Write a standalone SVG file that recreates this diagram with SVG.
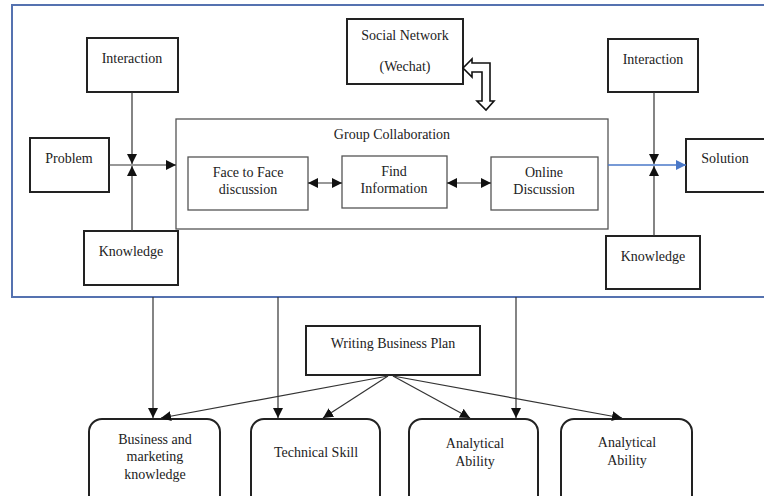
<svg xmlns="http://www.w3.org/2000/svg" width="764" height="496" viewBox="0 0 764 496">
  <style>
    text { font-family: "Liberation Serif", "Times New Roman", serif; font-size: 14px; fill: #222; text-anchor: middle; }
    .box { fill: #fff; stroke: #222; stroke-width: 2; }
    .inner { fill: #fff; stroke: #555; stroke-width: 1.3; }
    .group { fill: #fff; stroke: #555; stroke-width: 1.3; }
    .pill { fill: #fff; stroke: #222; stroke-width: 2; }
    .line { fill: none; stroke: #333; stroke-width: 1.2; }
    .blue { fill: none; stroke: #4A78C8; stroke-width: 1.3; }
  </style>
  <defs>
    <marker id="arrow" viewBox="0 0 10 10" refX="10" refY="5" markerWidth="10" markerHeight="10" markerUnits="userSpaceOnUse" orient="auto-start-reverse">
      <path d="M0,0 L10,5 L0,10 z" fill="#111"/>
    </marker>
    <marker id="arrow-blue" viewBox="0 0 10 10" refX="10" refY="5" markerWidth="10" markerHeight="10" markerUnits="userSpaceOnUse" orient="auto">
      <path d="M0,0 L10,5 L0,10 z" fill="#4A78C8"/>
    </marker>
  </defs>

  <rect width="764" height="496" fill="#fff"/>

  <!-- outer frame -->
  <rect id="frame" x="12" y="5" width="770" height="292" fill="none" stroke="#5572B0" stroke-width="2"/>

  <!-- group collaboration container -->
  <g id="group-collaboration">
    <rect class="group" x="176" y="119" width="432" height="110"/>
    <text x="392" y="139">Group Collaboration</text>
  </g>

  <g id="face-to-face">
    <rect class="inner" x="188" y="157" width="120" height="53"/>
    <text x="248" y="177">Face to Face</text>
    <text x="248" y="194">discussion</text>
  </g>

  <g id="find-information">
    <rect class="inner" x="342" y="156" width="105" height="52"/>
    <text x="394" y="176">Find</text>
    <text x="394" y="193">Information</text>
  </g>

  <g id="online-discussion">
    <rect class="inner" x="491" y="157" width="107" height="53"/>
    <text x="544" y="177">Online</text>
    <text x="544" y="194">Discussion</text>
  </g>

  <g id="social-network">
    <rect class="box" x="347" y="19" width="116" height="65"/>
    <text x="405" y="40">Social Network</text>
    <text x="405" y="71">(Wechat)</text>
  </g>

  <g id="interaction-left">
    <rect class="box" x="87" y="38" width="91" height="54"/>
    <text x="132" y="63">Interaction</text>
  </g>

  <g id="problem">
    <rect class="box" x="30" y="138" width="79" height="54"/>
    <text x="69" y="163">Problem</text>
  </g>

  <g id="knowledge-left">
    <rect class="box" x="84" y="231" width="94" height="54"/>
    <text x="131" y="256">Knowledge</text>
  </g>

  <g id="interaction-right">
    <rect class="box" x="608" y="39" width="90" height="53"/>
    <text x="653" y="64">Interaction</text>
  </g>

  <g id="solution">
    <rect class="box" x="686" y="139" width="80" height="53"/>
    <text x="725" y="163">Solution</text>
  </g>

  <g id="knowledge-right">
    <rect class="box" x="606" y="236" width="94" height="53"/>
    <text x="653" y="261">Knowledge</text>
  </g>

  <g id="writing-business-plan">
    <rect class="box" x="306" y="326" width="174" height="49"/>
    <text x="393" y="348">Writing Business Plan</text>
  </g>

  <g id="business-marketing">
    <rect class="pill" x="89" y="419" width="131" height="100" rx="13"/>
    <text x="155" y="444">Business and</text>
    <text x="155" y="461">marketing</text>
    <text x="155" y="479">knowledge</text>
  </g>

  <g id="technical-skill">
    <rect class="pill" x="251" y="419" width="129" height="100" rx="13"/>
    <text x="316" y="457">Technical Skill</text>
  </g>

  <g id="analytical-ability-1">
    <rect class="pill" x="409" y="419" width="129" height="100" rx="13"/>
    <text x="475" y="448">Analytical</text>
    <text x="475" y="466">Ability</text>
  </g>

  <g id="analytical-ability-2">
    <rect class="pill" x="561" y="419" width="131" height="100" rx="13"/>
    <text x="627" y="447">Analytical</text>
    <text x="627" y="465">Ability</text>
  </g>

  <g id="connectors">
    <!-- left inputs into the collaboration -->
    <line class="line" x1="132" y1="92" x2="132" y2="164" marker-end="url(#arrow)"/>
    <line class="line" x1="132" y1="231" x2="132" y2="166" marker-end="url(#arrow)"/>
    <line class="line" x1="109" y1="165" x2="176" y2="165" marker-end="url(#arrow)"/>

    <!-- links between the collaboration activities -->
    <line class="line" x1="308" y1="183" x2="342" y2="183" marker-start="url(#arrow)" marker-end="url(#arrow)"/>
    <line class="line" x1="447" y1="183" x2="491" y2="183" marker-start="url(#arrow)" marker-end="url(#arrow)"/>

    <!-- hollow bent arrow between the social network and the group -->
    <polygon points="463,68 472,59 472,63 490,63 490,101 494,101 486,110 477,101 482,101 482,72 472,72 472,77" fill="#fff" stroke="#111" stroke-width="1.6" stroke-linejoin="miter"/>

    <!-- right inputs towards the solution -->
    <line class="line" x1="654" y1="92" x2="654" y2="164" marker-end="url(#arrow)"/>
    <line class="line" x1="654" y1="236" x2="654" y2="166" marker-end="url(#arrow)"/>
    <line class="blue" x1="608" y1="165" x2="686" y2="165" marker-end="url(#arrow-blue)"/>

    <!-- frame down to the outcomes -->
    <line class="line" x1="153" y1="297" x2="153" y2="418" marker-end="url(#arrow)"/>
    <line class="line" x1="278" y1="297" x2="278" y2="418" marker-end="url(#arrow)"/>
    <line class="line" x1="516" y1="297" x2="516" y2="418" marker-end="url(#arrow)"/>

    <!-- business plan to the outcomes -->
    <line class="line" x1="388" y1="376" x2="161" y2="418" marker-end="url(#arrow)"/>
    <line class="line" x1="388" y1="376" x2="323" y2="418" marker-end="url(#arrow)"/>
    <line class="line" x1="393" y1="376" x2="470" y2="418" marker-end="url(#arrow)"/>
    <line class="line" x1="393" y1="376" x2="622" y2="418" marker-end="url(#arrow)"/>
  </g>
</svg>
